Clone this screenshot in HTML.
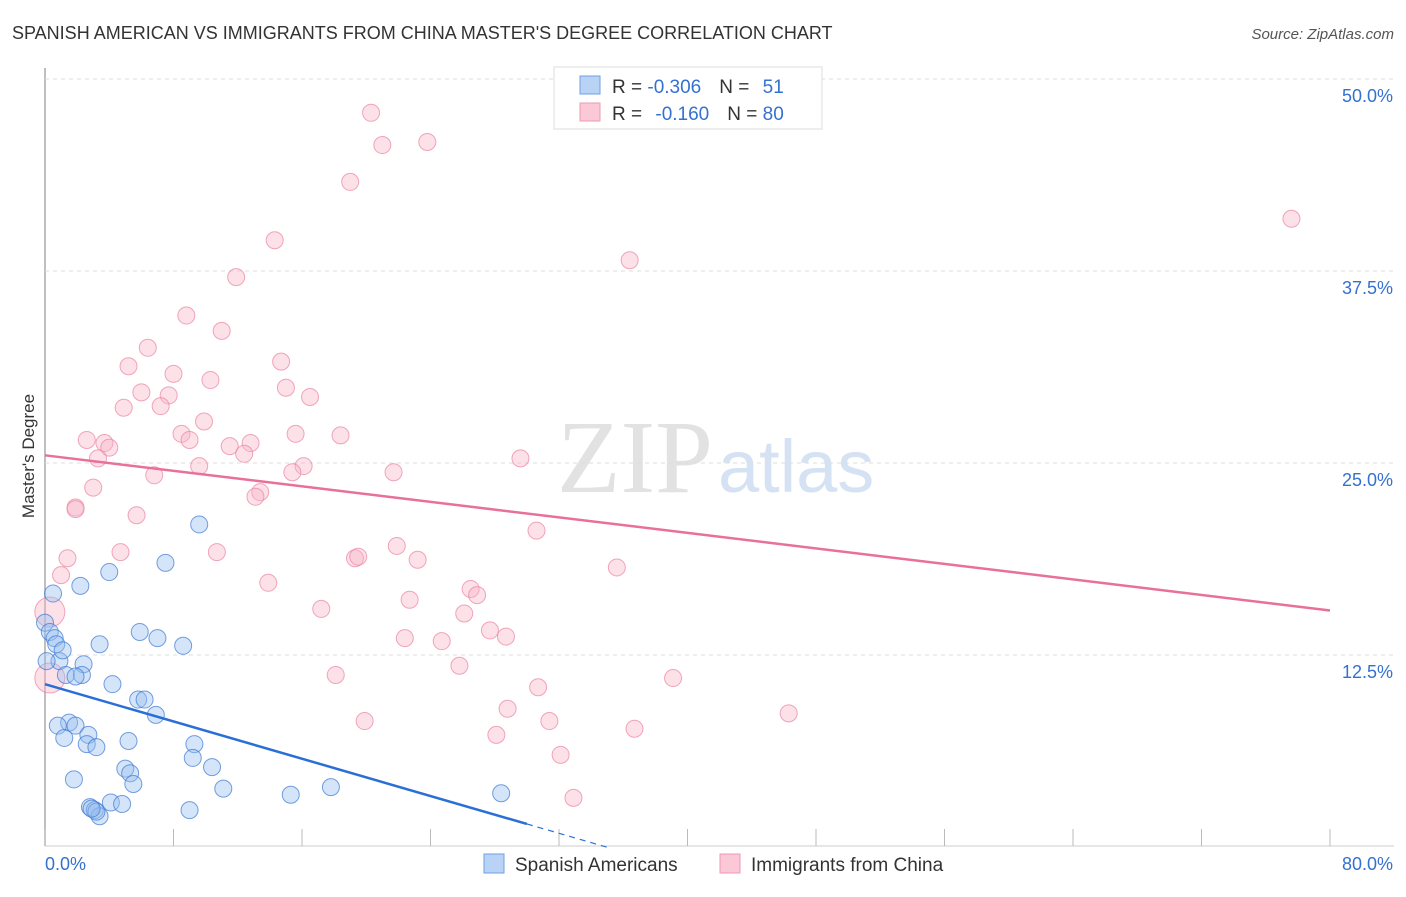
<!DOCTYPE html>
<html><head><meta charset="utf-8"><style>
body{margin:0;background:#fff;font-family:"Liberation Sans",sans-serif}
svg text{font-family:"Liberation Sans",sans-serif}
</style></head><body>
<svg id="c" width="1406" height="892">
<text x="12" y="39" font-size="18" fill="#333">SPANISH AMERICAN VS IMMIGRANTS FROM CHINA MASTER'S DEGREE CORRELATION CHART</text>
<text x="1394" y="39" font-size="15" fill="#555" text-anchor="end" font-style="italic">Source: ZipAtlas.com</text>
<text x="713" y="492" font-size="104" fill="#e2e2e2" text-anchor="end" style="font-family:'Liberation Serif',serif">ZIP</text>
<text x="718" y="492" font-size="74" fill="#d5e2f3">atlas</text>
<text transform="translate(34,456) rotate(-90)" font-size="17" fill="#333" text-anchor="middle">Master's Degree</text>
<g id="grid"></g><g id="pts"></g><g id="lines"></g>
<g>
<rect x="554" y="67" width="268" height="62" fill="#fff" stroke="#ddd"/>
<rect x="580" y="76" width="20" height="18" fill="#b8d3f5" stroke="#6f9fe0"/>
<rect x="580" y="103" width="20" height="18" fill="#fbc8d7" stroke="#ee9ab2"/>
<text x="612" y="93" font-size="19" fill="#333">R = <tspan fill="#3471d0">-0.306</tspan><tspan dx="18">N = </tspan><tspan fill="#3471d0" dx="8">51</tspan></text>
<text x="612" y="120" font-size="19" fill="#333">R = <tspan fill="#3471d0" dx="8">-0.160</tspan><tspan dx="18">N = </tspan><tspan fill="#3471d0">80</tspan></text>
</g>
<g>
<rect x="484" y="854" width="20" height="19" fill="#b8d3f5" stroke="#6f9fe0"/>
<text x="515" y="871" font-size="19" fill="#333">Spanish Americans</text>
<rect x="720" y="854" width="20" height="19" fill="#fbc8d7" stroke="#ee9ab2"/>
<text x="751" y="871" font-size="19" fill="#333">Immigrants from China</text>
</g>
</svg>
<script>
const xTicks=[0,8,16,24,32,40,48,56,64,72,80];
const yTicks=[12.5,25,37.5,50];
const blueX=[0.0,0.3,0.5,0.6,0.7,0.9,1.1,1.3,1.5,1.9,2.2,2.4,3.4,2.3,1.9,4.0,4.2,5.9,7.0,7.5,8.6,9.6,5.8,6.2,6.9,0.8,1.2,2.7,2.6,3.2,5.2,1.8,5.0,5.3,5.5,9.3,9.2,10.4,11.1,2.8,3.1,3.4,4.1,4.8,9.0,15.3,17.8,28.4,3.2,2.9,0.1];
const blueY=[14.6,14.0,16.5,13.6,13.2,12.1,12.8,11.2,8.1,7.9,17.0,11.9,13.2,11.2,11.1,17.9,10.6,14.0,13.6,18.5,13.1,21.0,9.6,9.6,8.6,7.9,7.1,7.3,6.7,6.5,6.9,4.4,5.1,4.8,4.1,6.7,5.8,5.2,3.8,2.6,2.4,2.0,2.9,2.8,2.4,3.4,3.9,3.5,2.3,2.5,12.1];
const pinkX=[20.3,21.0,23.8,19.0,14.3,11.9,36.4,77.6,8.8,11.0,6.4,5.2,14.7,8.0,10.3,15.0,16.5,6.0,7.7,7.2,4.9,9.9,8.5,15.6,18.4,2.6,3.7,4.0,9.0,12.8,11.5,12.4,3.3,16.1,15.4,21.7,29.6,9.6,6.8,3.0,13.4,13.1,1.9,1.9,5.7,30.6,4.7,10.7,21.9,1.4,19.3,19.5,23.2,35.6,1.0,13.9,26.5,22.7,26.9,17.2,26.1,27.7,28.7,22.4,24.7,25.8,18.1,39.1,30.7,28.8,46.3,19.9,31.4,36.7,28.1,32.1,32.9,0.3,0.3];
const pinkY=[47.8,45.7,45.9,43.3,39.5,37.1,38.2,40.9,34.6,33.6,32.5,31.3,31.6,30.8,30.4,29.9,29.3,29.6,29.4,28.7,28.6,27.7,26.9,26.9,26.8,26.5,26.3,26.0,26.5,26.3,26.1,25.6,25.3,24.8,24.4,24.4,25.3,24.8,24.2,23.4,23.1,22.8,22.1,22.0,21.6,20.6,19.2,19.2,19.6,18.8,18.8,18.9,18.7,18.2,17.7,17.2,16.8,16.1,16.4,15.5,15.2,14.1,13.7,13.6,13.4,11.8,11.2,11.0,10.4,9.0,8.7,8.2,8.2,7.7,7.3,6.0,3.2,15.3,11.0];
const blueLine=[0,10.6,30,1.5];
const pinkLine=[0,25.5,80,15.4];
const X=v=>45+v*1285/80, Y=v=>847-v*15.36;
const NS='http://www.w3.org/2000/svg';
function mk(p,t,a){const e=document.createElementNS(NS,t);for(const k in a)e.setAttribute(k,a[k]);p.appendChild(e);return e;}
const grid=document.getElementById('grid');
const ax=mk(grid,'line',{x1:45,y1:68,x2:45,y2:846,stroke:'#aaa','stroke-width':1.5});


const bx=mk(grid,'line',{x1:45,y1:846,x2:1394,y2:846,stroke:'#ccc'});


yTicks.forEach(v=>{
 const l=mk(grid,'line',{x1:45,x2:1394,y1:Y(v),y2:Y(v),stroke:'#ddd','stroke-dasharray':'4,4'});
 
 
 const t=mk(grid,'text',{x:1393,y:Y(v)+23,'font-size':18,fill:'#3471d0','text-anchor':'end'});
 t.textContent=v.toFixed(1)+'%';
 
 
});
xTicks.forEach(v=>{
 const l=mk(grid,'line',{x1:X(v),x2:X(v),y1:829,y2:846,stroke:'#bbb'});
 
 
});
[[0,'0.0%',45,'start'],[80,'80.0%',1393,'end']].forEach(d=>{
 const t=mk(grid,'text',{x:d[2],y:870,'font-size':18,fill:'#3471d0','text-anchor':d[3]});
 t.textContent=d[1];
 
 
});
const pts=document.getElementById('pts');
pinkX.forEach((v,i)=>{
 const big=i>=pinkX.length-2;
 const c=mk(pts,'circle',{cx:X(v),cy:Y(pinkY[i]),r:big?15:8.5,fill:'rgba(248,180,200,0.4)',stroke:'rgba(235,130,160,0.7)'});
 
 
});
blueX.forEach((v,i)=>{
 const c=mk(pts,'circle',{cx:X(v),cy:Y(blueY[i]),r:8.5,fill:'rgba(150,190,240,0.4)',stroke:'rgba(60,120,210,0.7)'});
 
 
});
const lines=document.getElementById('lines');
const bl=mk(lines,'line',{x1:X(blueLine[0]),y1:Y(blueLine[1]),x2:X(blueLine[2]),y2:Y(blueLine[3]),stroke:'#2a6fd6','stroke-width':2.5});


const slope=(blueLine[3]-blueLine[1])/(blueLine[2]-blueLine[0]);
const bd=mk(lines,'line',{x1:X(blueLine[2]),y1:Y(blueLine[3]),x2:X(35),y2:Y(blueLine[1]+slope*35),stroke:'#2a6fd6','stroke-width':1.2,'stroke-dasharray':'6,5'});


const pl=mk(lines,'line',{x1:X(pinkLine[0]),y1:Y(pinkLine[1]),x2:X(pinkLine[2]),y2:Y(pinkLine[3]),stroke:'#e8709a','stroke-width':2.5});


</script>
</body></html>
